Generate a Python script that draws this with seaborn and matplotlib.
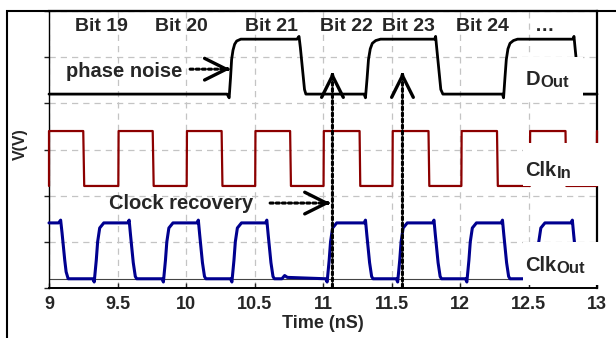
import numpy as np
import pandas as pd
import matplotlib
matplotlib.use('Agg')
import matplotlib.pyplot as plt
from matplotlib.patches import Rectangle
import seaborn as sns

# waveforms (time in nS, level in V-ish units)
d_out_t = [9.0, 10.30, 10.315, 10.325, 10.333, 10.343, 10.355, 10.37, 10.40,
           10.81, 10.825, 10.835, 10.845, 10.855, 10.865, 10.875,
           11.30, 11.31, 11.322, 11.332, 11.345, 11.36, 11.385, 11.42,
           11.815, 11.822, 11.83, 11.84, 11.85, 11.86, 11.875,
           12.31, 12.318, 12.328, 12.338, 12.35, 12.365, 12.39, 12.42,
           12.825, 12.832, 12.84, 12.85, 12.86, 12.87, 12.885, 13.0]
d_out_v = [4.20, 4.20, 4.12, 4.55, 4.95, 5.15, 5.28, 5.35, 5.39,
           5.39, 5.45, 5.20, 4.90, 4.60, 4.30, 4.20,
           4.20, 4.12, 4.55, 4.95, 5.18, 5.30, 5.36, 5.39,
           5.39, 5.45, 5.20, 4.90, 4.60, 4.30, 4.20,
           4.20, 4.12, 4.55, 4.95, 5.18, 5.30, 5.36, 5.39,
           5.39, 5.45, 5.20, 4.90, 4.60, 4.30, 4.20, 4.20]

clk_in_t = [9.0, 9.0, 9.25, 9.257, 9.506, 9.508, 9.757, 9.764, 10.005, 10.007,
            10.26, 10.266, 10.505, 10.507, 10.76, 10.766, 11.004, 11.006,
            11.267, 11.272, 11.507, 11.509, 11.77, 11.776, 12.01, 12.012,
            12.27, 12.276, 12.51, 12.512, 12.77, 12.776, 12.998, 13.0]
clk_in_v = [2.21, 3.40, 3.40, 2.21, 2.21, 3.40, 3.40, 2.21, 2.21, 3.40,
            3.40, 2.21, 2.21, 3.40, 3.40, 2.21, 2.21, 3.40,
            3.40, 2.21, 2.21, 3.40, 3.40, 2.21, 2.21, 3.40,
            3.40, 2.21, 2.21, 3.40, 3.40, 2.21, 2.21, 3.40]

clk_out_t = [9.0, 9.07, 9.085, 9.095, 9.105, 9.115, 9.125, 9.14,
             9.32, 9.33, 9.345, 9.355, 9.37, 9.40,
             9.575, 9.585, 9.595, 9.605, 9.615, 9.63, 9.64,
             9.825, 9.835, 9.85, 9.86, 9.875, 9.905,
             10.08, 10.09, 10.10, 10.11, 10.12, 10.135, 10.145,
             10.325, 10.335, 10.35, 10.36, 10.375, 10.405,
             10.58, 10.59, 10.60, 10.61, 10.62, 10.635, 10.645,
             10.70, 10.72, 10.74, 11.02, 11.03, 11.045, 11.055, 11.07, 11.10,
             11.30, 11.31, 11.32, 11.33, 11.34, 11.355, 11.365,
             11.535, 11.545, 11.56, 11.57, 11.585, 11.615,
             11.80, 11.81, 11.82, 11.83, 11.84, 11.855, 11.865,
             12.04, 12.05, 12.065, 12.075, 12.09, 12.12,
             12.30, 12.31, 12.32, 12.33, 12.34, 12.355, 12.365,
             12.54, 12.55, 12.565, 12.575, 12.59, 12.62,
             12.81, 12.82, 12.83, 12.84, 12.85, 12.865, 12.875, 13.0]
clk_out_v = [1.41, 1.41, 1.47, 1.20, 0.90, 0.60, 0.35, 0.20,
             0.20, 0.13, 0.60, 1.00, 1.30, 1.41,
             1.41, 1.47, 1.15, 0.85, 0.55, 0.25, 0.20,
             0.20, 0.13, 0.60, 1.00, 1.30, 1.41,
             1.41, 1.47, 1.15, 0.85, 0.55, 0.25, 0.20,
             0.20, 0.13, 0.60, 1.00, 1.30, 1.41,
             1.41, 1.47, 1.15, 0.85, 0.55, 0.25, 0.20,
             0.20, 0.27, 0.23, 0.20, 0.13, 0.60, 1.00, 1.30, 1.41,
             1.41, 1.47, 1.15, 0.85, 0.55, 0.25, 0.20,
             0.20, 0.13, 0.60, 1.00, 1.30, 1.41,
             1.41, 1.47, 1.15, 0.85, 0.55, 0.25, 0.20,
             0.20, 0.13, 0.60, 1.00, 1.30, 1.41,
             1.41, 1.47, 1.15, 0.85, 0.55, 0.25, 0.20,
             0.20, 0.13, 0.60, 1.00, 1.30, 1.41,
             1.41, 1.47, 1.15, 0.85, 0.55, 0.25, 0.20, 0.20]
clk_out_low = 0.195

x_ticks = [9, 9.5, 10, 10.5, 11, 11.5, 12, 12.5, 13]
x_tick_labels = ['9', '9.5', '10', '10.5', '11', '11.5', '12', '12.5', '13']
bit_labels = ['Bit 19', 'Bit 20', 'Bit 21', 'Bit 22', 'Bit 23', 'Bit 24', '\u2026']
bit_pos = [9.385, 9.965, 10.623, 11.168, 11.62, 12.166, 12.617]

sns.set_theme(style='white')
plt.rcParams['font.family'] = ['Liberation Sans', 'DejaVu Sans']
plt.rcParams['font.weight'] = 'bold'
plt.rcParams['axes.labelweight'] = 'bold'

fig = plt.figure(figsize=(6.16, 3.38), dpi=100)
ax = fig.add_axes([49/616, 50/338, 548/616, 277/338])

sns.lineplot(x=d_out_t, y=d_out_v, ax=ax, color='black', lw=2.0,
             sort=False, estimator=None, clip_on=False, zorder=3)
sns.lineplot(x=clk_in_t, y=clk_in_v, ax=ax, color='#8c0000', lw=1.6,
             sort=False, estimator=None, clip_on=False, zorder=3)
sns.lineplot(x=clk_out_t, y=clk_out_v, ax=ax, color='#00008f', lw=2.2,
             sort=False, estimator=None, clip_on=False, zorder=3)
ax.axhline(clk_out_low, color='#444444', lw=0.8, zorder=2)

ax.set_xlim(9, 13)
ax.set_ylim(0, 6)
ax.set_xticks(x_ticks)
ax.set_xticklabels(x_tick_labels, fontsize=13, fontweight='bold')
ax.set_yticks(range(7))
ax.tick_params(axis='y', direction='out', length=3.5, width=1, labelleft=False, left=True, color='#222222')
ax.tick_params(axis='x', direction='in', length=3.5, width=1, pad=6, bottom=True, color='#222222')
ax.grid(True, ls=(0, (5, 4)), color='#c4c4c4', lw=0.9)
ax.set_axisbelow(True)

for side, lw in [('left', 1.0), ('bottom', 1.4), ('right', 1.6), ('top', 1.6)]:
    ax.spines[side].set_color('black')
    ax.spines[side].set_linewidth(lw)

ax.set_xlabel('Time (nS)', fontsize=13, fontweight='bold', labelpad=1)
ax.set_ylabel('V(V)', fontsize=11.5, fontweight='bold')
ax.yaxis.set_label_coords(-0.038, 0.52)

# white boxes behind the signal names
for (x0, y0, w, h) in [(12.44, 4.115, 0.46, 0.895), (12.46, 2.21, 0.59, 0.93),
                       (12.46, 0.065, 0.59, 0.925)]:
    ax.add_patch(Rectangle((x0, y0), w, h, facecolor='white', edgecolor='none',
                           zorder=4, clip_on=False))

# signal names with subscripts
for name, sub, y in [('D', 'Out', 4.40), ('Clk', 'In', 2.43), ('Clk', 'Out', 0.37)]:
    t1 = ax.text(12.478, y, name, fontsize=14.5, fontweight='bold', va='baseline', zorder=6)
    ax.annotate(sub, xy=(1, 0), xycoords=t1, xytext=(0, -1), textcoords='offset points',
                fontsize=12, fontweight='bold', va='bottom', ha='left', zorder=6)

for lab, x in zip(bit_labels, bit_pos):
    ax.text(x, 5.66, lab, fontsize=14, fontweight='bold', ha='center', va='center', zorder=6)

ax.text(9.547, 4.58, 'phase noise', fontsize=14.5, fontweight='bold', ha='center', va='baseline', zorder=6)
ax.text(9.963, 1.705, 'Clock recovery', fontsize=14.5, fontweight='bold', ha='center', va='baseline', zorder=6)

dot = dict(arrowstyle='-', ls=(0, (1, 1)), lw=2.2, color='black', shrinkA=0, shrinkB=0)
head = dict(arrowstyle='->,head_length=1.3,head_width=0.65', lw=2.4, color='black',
            shrinkA=0, shrinkB=0)

# phase noise arrow
ax.annotate('', xy=(10.30, 4.74), xytext=(10.03, 4.74), arrowprops=dot, zorder=5)
ax.annotate('', xy=(10.321, 4.74), xytext=(10.30, 4.74), arrowprops=head, zorder=5)
# clock recovery arrow
ax.annotate('', xy=(11.03, 1.84), xytext=(10.614, 1.84), arrowprops=dot, zorder=5)
ax.annotate('', xy=(11.052, 1.84), xytext=(11.03, 1.84), arrowprops=head, zorder=5)
# sampling instants
for x in [11.069, 11.58]:
    ax.annotate('', xy=(x, 4.6), xytext=(x, 0.02), arrowprops=dot, zorder=5)
    ax.annotate('', xy=(x, 4.68), xytext=(x, 4.6), arrowprops=head, zorder=5)

# outer frame, only the left and top edges fall inside the image
fig.add_artist(Rectangle((7/616, -0.1), 1.2, (338-11)/338 + 0.1, transform=fig.transFigure,
                         fill=False, edgecolor='black', lw=1.5, clip_on=False))

fig.savefig('out.png', dpi=100)
